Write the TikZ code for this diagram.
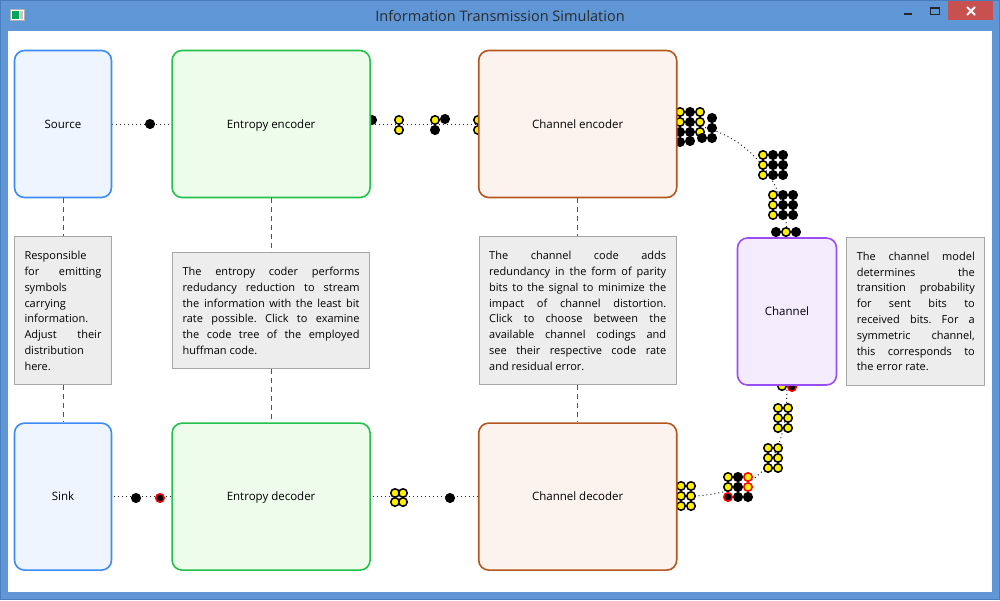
\documentclass[tikz,border=0pt]{standalone}
\usepackage{fontspec}
\setmainfont{Open Sans}
\usetikzlibrary{%
    positioning
}
\frenchspacing
\definecolor{titlebar}{HTML}{5F96D6}
\definecolor{frameedge}{HTML}{4A7DBE}
\definecolor{closered}{HTML}{C8504F}
\definecolor{titletext}{HTML}{2B2B2B}
\definecolor{srcline}{HTML}{3D8BF5}
\definecolor{srcfill}{HTML}{EEF5FF}
\definecolor{entline}{HTML}{22C14A}
\definecolor{entfill}{HTML}{EEFCEB}
\definecolor{chline}{HTML}{B5561E}
\definecolor{chfill}{HTML}{FDF3EE}
\definecolor{chanline}{HTML}{9B4DF5}
\definecolor{chanfill}{HTML}{F4EBFD}
\definecolor{notegray}{HTML}{A6A6A6}
\definecolor{notefill}{HTML}{EDEDED}
\definecolor{guidegray}{HTML}{555555}
\definecolor{bityellow}{HTML}{FFF000}
\pgfdeclarelayer{window}
\pgfdeclarelayer{wires}
\pgfsetlayers{window,wires,main}
\tikzset{
    block/.style = {draw, rounded corners=10pt, line width=1.6pt,
        minimum height=147pt, text height=8pt, text depth=0pt,
        font=\fontsize{11.5}{13}\selectfont},
    wideblock/.style = {block, minimum width=198pt},
    slimblock/.style = {block, minimum width=97pt},
    note/.style = {draw=notegray, fill=notefill, line width=1pt,
        inner xsep=10pt, align=justify,
        font=\fontsize{11}{15.8}\selectfont,
        execute at begin node={\tolerance=10000 \hbadness=10000}},
    guide/.style = {draw=guidegray, dash pattern=on 5pt off 4pt, line width=0.8pt},
    wire/.style = {black!85, dash pattern=on 1pt off 3pt, line width=1pt},
    bit/.style = {circle, inner sep=0pt, minimum size=8.5pt, line width=1.5pt},
    one/.style = {bit, draw=black, fill=bityellow},
    zero/.style = {bit, draw=black, fill=black},
    oneflip/.style = {bit, draw=red, fill=bityellow},
    zeroflip/.style = {bit, draw=red, fill=black}
}

\begin{document}
\begin{tikzpicture}[x=1pt, y=-1pt]
    \useasboundingbox (0,0) rectangle (1000,600);

    % blocks of the transmission chain
    \node[slimblock, draw=srcline, fill=srcfill] (source) at (63,124) {Source};
    \node[wideblock, draw=entline, fill=entfill] (entenc) [right=59pt of source] {Entropy encoder};
    \node[wideblock, draw=chline, fill=chfill] (chenc) [right=107pt of entenc] {Channel encoder};
    \node[slimblock, draw=chanline, fill=chanfill, minimum width=99pt] (channel) at (787,311.5) {Channel};

    \node[note, text width=77pt, minimum height=148pt] (srcnote) [below=38pt of source]
        {Responsible\newline for emitting\linebreak symbols\newline carrying\newline
         information.\newline Adjust their\linebreak distribution\newline here.};
    \node[note, text width=177pt, minimum height=116pt] (entnote) [below=54pt of entenc]
        {The entropy coder performs\linebreak redudancy reduction to stream\linebreak
         the information with the least bit\linebreak rate possible. Click to examine\linebreak
         the code tree of the employed\linebreak huffman code.};
    \node[note, text width=177pt, minimum height=148pt] (chnote) [below=38pt of chenc]
        {The channel code adds\linebreak redundancy in the form of parity\linebreak
         bits to the signal to minimize the\linebreak impact of channel distortion.\linebreak
         Click to choose between the\linebreak available channel codings and\linebreak
         see their respective code rate\linebreak and residual error.};
    \node[note, text width=118pt, minimum height=148pt] (channote) [right=9pt of channel]
        {The channel model\linebreak determines the\linebreak transition probability\linebreak
         for sent bits to\linebreak received bits. For a\linebreak symmetric channel,\linebreak
         this corresponds to\linebreak the error rate.};

    \node[slimblock, draw=srcline, fill=srcfill] (sink) [below=37pt of srcnote] {Sink};
    \node[wideblock, draw=entline, fill=entfill] (entdec) [below=53pt of entnote] {Entropy decoder};
    \node[wideblock, draw=chline, fill=chfill] (chdec) [below=37pt of chnote] {Channel decoder};

    \foreach \a/\b in {source/srcnote, srcnote/sink, entenc/entnote,
                       entnote/entdec, chenc/chnote, chnote/chdec}
    \draw[guide] (\a) -- (\b);

    % connectors and the bits travelling on them
    \begin{pgfonlayer}{wires}
    \draw[wire] (source) -- (entenc);
    \draw[wire] (entenc) -- (chenc);
    \draw[wire] (chenc.east) to[out=0, in=90] (channel.north);
    \draw[wire] (channel.south) .. controls +(0,80) and +(80,0) .. (chdec.east);
    \draw[wire] (chdec) -- (entdec);
    \draw[wire] (entdec) -- (sink);

    \foreach \x/\y/\kind [count=\n] in {%
        150/124/zero, 372/120/zero, 399/120/one, 399/130/one,
        435/120/one, 445/119/zero, 435/130/zero, 478/120/one, 478/130/one,
        680/112/one, 690/112/zero, 700/112/one,
        680/122/one, 690/122/zero, 700/122/one, 712/118/zero,
        680/132/zero, 690/132/zero, 700/132/one, 712/128/zero,
        680/142/zero, 690/141/zero, 702/138/zero, 712/138/zero,
        776/232/zero, 786/232/one, 796/232/zero%
        }
    \node[\kind] (sent\n) at (\x,\y) {};

    \foreach \y [count=\n] in {155,165,175}
    {
        \node[one] (grida\n) at (763,\y) {};
        \node[zero] (gridb\n) at (773,\y) {};
        \node[zero] (gridc\n) at (783,\y) {};
    }
    \foreach \y [count=\n] in {195,205,215}
    {
        \node[one] (gridd\n) at (773,\y) {};
        \node[zero] (gride\n) at (783,\y) {};
        \node[zero] (gridf\n) at (793,\y) {};
    }

    \foreach \x/\y/\kind [count=\n] in {%
        782/386/one, 792/387/zeroflip,
        778/408/one, 788/408/one, 778/418/one, 788/418/one, 778/428/one, 788/428/one,
        768/448/one, 778/448/one, 768/458/one, 778/458/one, 768/468/one, 778/468/one,
        728/477/one, 738/477/zero, 748/477/oneflip,
        728/487/one, 738/487/zero, 748/487/oneflip,
        728/497/zeroflip, 738/497/zero, 748/497/zero,
        681/486/one, 691/486/one, 681/496/one, 691/496/one, 681/506/one, 691/506/one,
        395/493/one, 403/493/one, 395/502/one, 403/502/one,
        450/498/zero, 136/498/zero, 160/498/zeroflip%
        }
    \node[\kind] (recv\n) at (\x,\y) {};
    \end{pgfonlayer}

    % window frame
    \begin{pgfonlayer}{window}
    \fill[titlebar] (0,0) rectangle (1000,600);
    \draw[frameedge, line width=1pt] (0.5,0.5) rectangle (999.5,599.5);
    \fill[white] (8,31) rectangle (992,592);
    \node[text=titletext, font=\fontsize{14.5}{16}\selectfont] (title) at (500,16)
        {Information Transmission Simulation};
    \draw[gray!60, fill=white, line width=0.8pt] (10.5,9.5) rectangle (24.5,20);
    \fill[teal!70!green] (12,11) rectangle (18.5,18.5);
    \fill[gray!45] (20,11) rectangle (23,18.5);
    \fill[closered] (948,1) rectangle (993,20);
    \draw[white, line width=1.8pt] (967,7) -- (975,15) (967,15) -- (975,7);
    \draw[black!85, line width=1.2pt] (930.5,7.5) rectangle (939.5,14.5);
    \draw[black!85, line width=2pt] (930,8) -- (940,8);
    \draw[black!85, line width=2pt] (904,14) -- (912,14);
    \end{pgfonlayer}
\end{tikzpicture}
\end{document}
